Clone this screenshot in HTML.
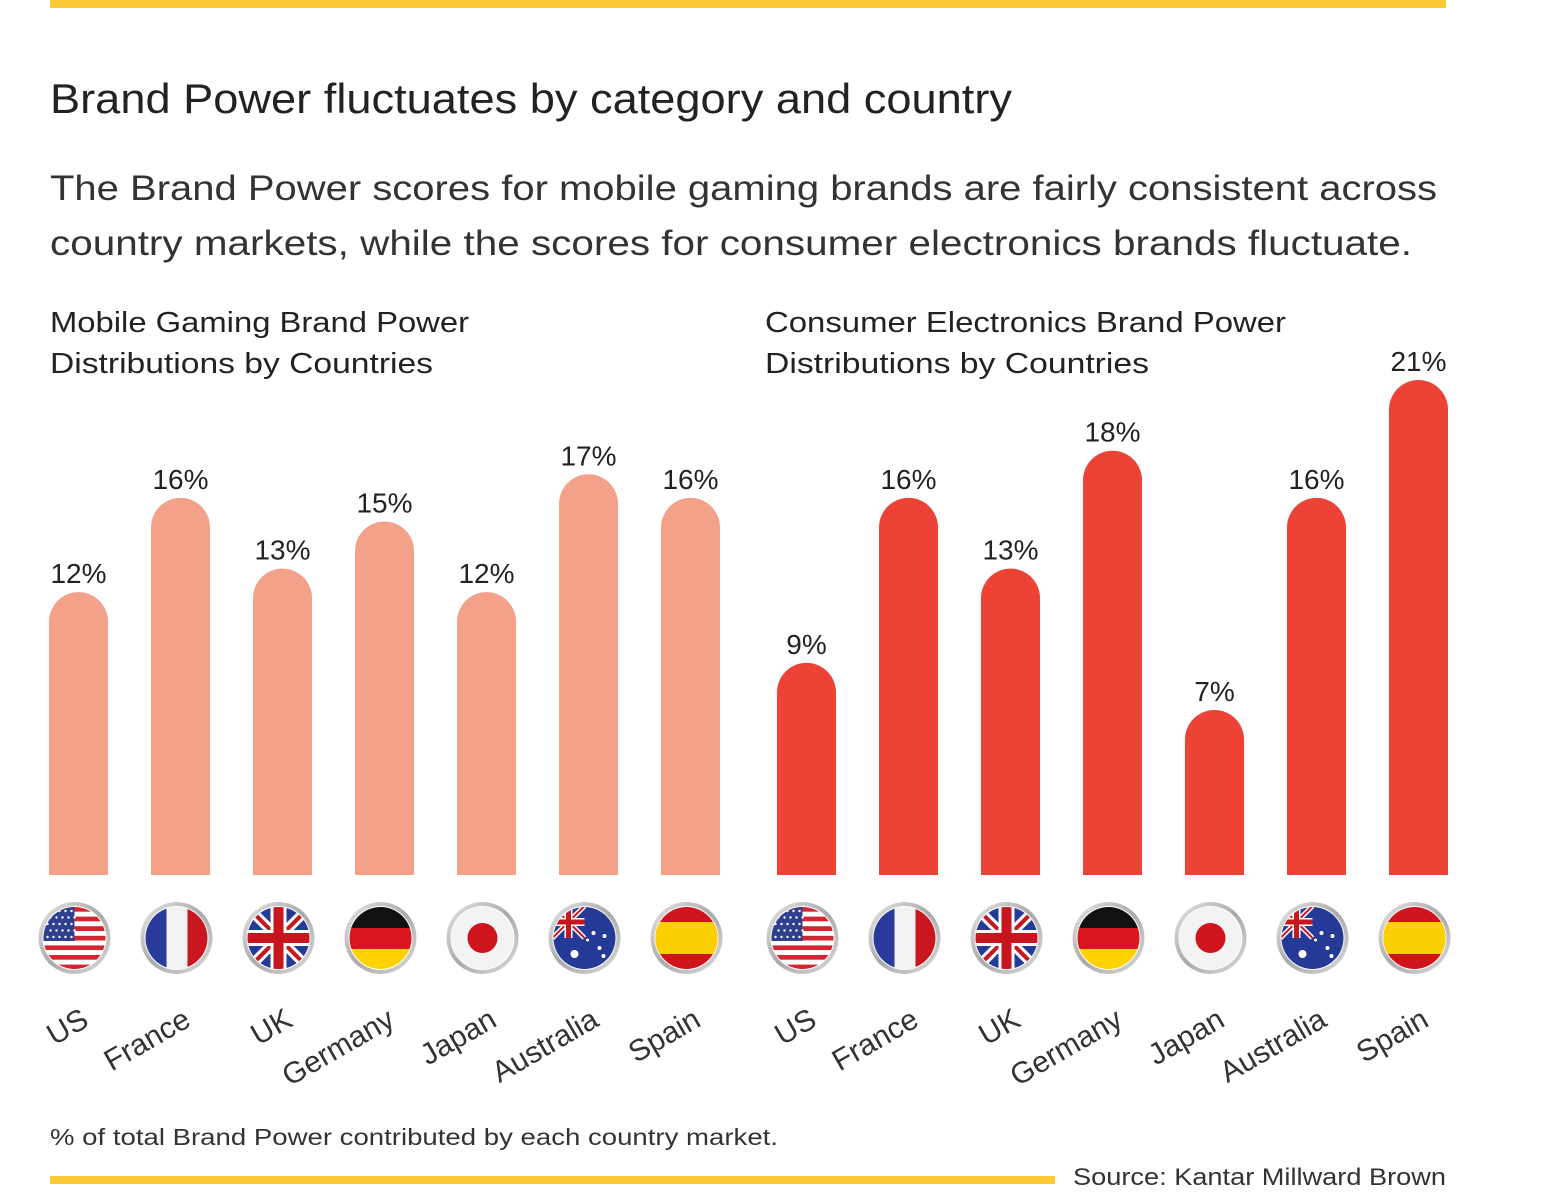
<!DOCTYPE html>
<html><head><meta charset="utf-8"><style>
html,body{margin:0;padding:0;background:#fff;}
svg{display:block;font-family:"Liberation Sans",sans-serif;}
</style></head><body>
<svg id="c" width="1558" height="1196" viewBox="0 0 1558 1196">
<defs>
<linearGradient id="ring" x1="0" y1="0" x2="1" y2="1"><stop offset="0" stop-color="#e8e8e8"/><stop offset="0.5" stop-color="#a9a9a9"/><stop offset="1" stop-color="#dcdcdc"/></linearGradient>
<clipPath id="cc"><circle cx="0" cy="0" r="31"/></clipPath>
</defs>
<rect x="50" y="0" width="1396" height="8" fill="#fcc934"/>
<text x="50" y="113" font-size="42" fill="#222" textLength="962" lengthAdjust="spacingAndGlyphs">Brand Power fluctuates by category and country</text>
<text x="50" y="200" font-size="35" fill="#333" textLength="1387" lengthAdjust="spacingAndGlyphs">The Brand Power scores for mobile gaming brands are fairly consistent across</text>
<text x="50" y="255" font-size="35" fill="#333" textLength="1362" lengthAdjust="spacingAndGlyphs">country markets, while the scores for consumer electronics brands fluctuate.</text>
<text x="50" y="332" font-size="29" fill="#222" textLength="419" lengthAdjust="spacingAndGlyphs">Mobile Gaming Brand Power</text>
<text x="50" y="373" font-size="29" fill="#222" textLength="383" lengthAdjust="spacingAndGlyphs">Distributions by Countries</text>
<text x="765" y="332" font-size="29" fill="#222" textLength="521" lengthAdjust="spacingAndGlyphs">Consumer Electronics Brand Power</text>
<text x="765" y="373" font-size="29" fill="#222" textLength="384" lengthAdjust="spacingAndGlyphs">Distributions by Countries</text>
<g id="charts"></g>
<text x="50" y="1145" font-size="23" fill="#333" textLength="728" lengthAdjust="spacingAndGlyphs">% of total Brand Power contributed by each country market.</text>
<rect x="50" y="1176" width="1005" height="8" fill="#fcc934"/>
<text x="1446" y="1185" font-size="24" fill="#333" text-anchor="end" textLength="373" lengthAdjust="spacingAndGlyphs">Source: Kantar Millward Brown</text>
</svg>
<script>
const countries = ["US","France","UK","Germany","Japan","Australia","Spain"];
const gamingValues = [12,16,13,15,12,17,16];
const electronicsValues = [9,16,13,18,7,16,21];

const NS="http://www.w3.org/2000/svg";
const baseY=875, pxPer=23.57, barW=59, step=102;
function y(v){return baseY-v*pxPer;}
function mk(tag,attrs,parent){const e=document.createElementNS(NS,tag);for(const k in attrs)e.setAttribute(k,attrs[k]);parent.appendChild(e);return e;}
const root=document.getElementById('charts');

function flag(g,name){
  const c=mk('g',{'clip-path':'url(#cc)'},g);
  if(name==="US"){
    for(let i=0;i<13;i++)mk('rect',{x:-32,y:-31+i*4.8,width:64,height:4.8,fill:i%2?'#fff':'#d22630'},c);
    mk('rect',{x:-32,y:-31,width:32,height:34,fill:'#2f3f8f'},c);
    for(let r=0;r<5;r++)for(let k=0;k<5;k++)mk('circle',{cx:-27+k*6+(r%2)*3,cy:-27+r*6.5,r:1.2,fill:'#fff'},c);
  }else if(name==="France"){
    mk('rect',{x:-32,y:-32,width:22,height:64,fill:'#2a3a9a'},c);
    mk('rect',{x:-10,y:-32,width:21,height:64,fill:'#f2f2f2'},c);
    mk('rect',{x:11,y:-32,width:22,height:64,fill:'#c8161e'},c);
  }else if(name==="UK"||name==="Australia"){
    mk('rect',{x:-32,y:-32,width:64,height:64,fill:'#253a96'},c);
    const s=name==="UK"?c:mk('g',{transform:'translate(-16,-16) scale(0.5)'},c);
    mk('line',{x1:-32,y1:-32,x2:32,y2:32,stroke:'#fff','stroke-width':10},s);
    mk('line',{x1:32,y1:-32,x2:-32,y2:32,stroke:'#fff','stroke-width':10},s);
    mk('line',{x1:-32,y1:-32,x2:32,y2:32,stroke:'#c8161e','stroke-width':4},s);
    mk('line',{x1:32,y1:-32,x2:-32,y2:32,stroke:'#c8161e','stroke-width':4},s);
    mk('rect',{x:-32,y:-8,width:64,height:16,fill:'#fff'},s);
    mk('rect',{x:-8,y:-32,width:16,height:64,fill:'#fff'},s);
    mk('rect',{x:-32,y:-5,width:64,height:10,fill:'#c8161e'},s);
    mk('rect',{x:-5,y:-32,width:10,height:64,fill:'#c8161e'},s);
    if(name==="Australia"){
      [[-10,16,4],[9,-5,2],[20,-2,2],[15,10,2],[19,18,2],[3,2,1.5]].forEach(p=>mk('circle',{cx:p[0],cy:p[1],r:p[2],fill:'#fff'},c));
    }
  }else if(name==="Germany"){
    mk('rect',{x:-32,y:-32,width:64,height:22,fill:'#111'},c);
    mk('rect',{x:-32,y:-10,width:64,height:21,fill:'#d9151e'},c);
    mk('rect',{x:-32,y:11,width:64,height:22,fill:'#ffd200'},c);
  }else if(name==="Japan"){
    mk('rect',{x:-32,y:-32,width:64,height:64,fill:'#f3f3f3'},c);
    mk('circle',{cx:0,cy:0,r:15,fill:'#d0141e'},c);
  }else if(name==="Spain"){
    mk('rect',{x:-32,y:-32,width:64,height:64,fill:'#d0141e'},c);
    mk('rect',{x:-32,y:-16,width:64,height:32,fill:'#fcd000'},c);
  }
}

function chart(vals,x0,color,key){
  vals.forEach((v,i)=>{
    const x=x0+i*step, cx=x+barW/2, top=y(v), r=barW/2;
    const p=mk('path',{d:`M${x},${baseY} L${x},${top+r} A${r},${r} 0 0 1 ${x+barW},${top+r} L${x+barW},${baseY} Z`,fill:color},root);
    
    
    const t=mk('text',{x:cx,y:top-9,'font-size':28,fill:'#222','text-anchor':'middle'},root);
    t.textContent=v+'%';
    
    
    const g=mk('g',{transform:`translate(${cx-4},938)`},root);
    
    
    mk('circle',{cx:0,cy:0,r:36,fill:'url(#ring)'},g);
    mk('circle',{cx:0,cy:0,r:32,fill:'#fff'},g);
    flag(g,countries[i]);
    const lx=cx+12, ly=1025;
    const l=mk('text',{x:lx,y:ly,'font-size':30,fill:'#333','text-anchor':'end',transform:`rotate(-30 ${lx} ${ly})`},root);
    l.textContent=countries[i];
    
    
  });
}
chart(gamingValues,49,'#f4a189','gaming');
chart(electronicsValues,777,'#ec4336','electronics');
</script>
</body></html>
